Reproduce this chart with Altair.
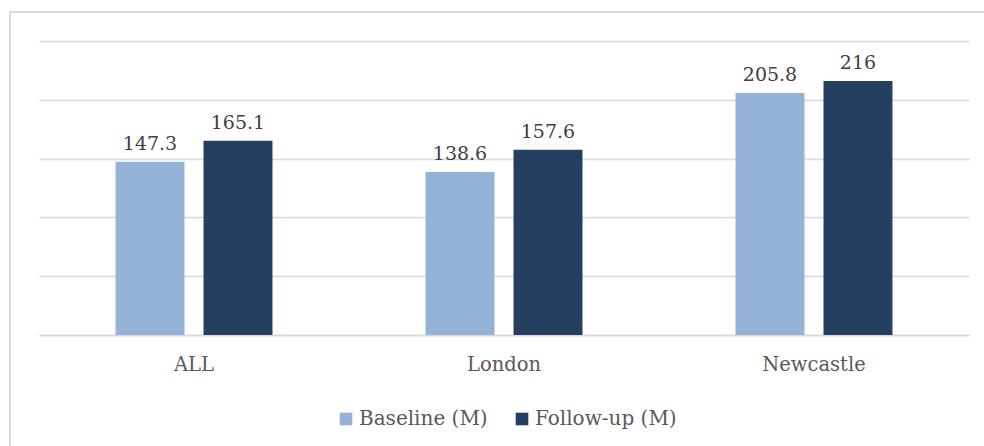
import altair as alt
import pandas as pd

categories = ["ALL", "London", "Newcastle"]
series = ["Baseline (M)", "Follow-up (M)"]
baseline = [147.3, 138.6, 205.8]
followup = [165.1, 157.6, 216]
labels_b = ["147.3", "138.6", "205.8"]
labels_f = ["165.1", "157.6", "216"]

rows = []
for c, v, l in zip(categories, baseline, labels_b):
    rows.append({"cat": c, "series": series[0], "value": v, "label": l})
for c, v, l in zip(categories, followup, labels_f):
    rows.append({"cat": c, "series": series[1], "value": v, "label": l})
df = pd.DataFrame(rows)

FONT = "DejaVu Serif"
TXT = "#595959"
GRID = "#D9D9D9"

x = alt.X("cat:N", sort=categories, title=None,
          scale=alt.Scale(paddingInner=0, paddingOuter=0),
          axis=alt.Axis(labelAngle=0, ticks=False, domain=True, domainColor=GRID,
                        domainWidth=1.3, labelFont=FONT, labelFontSize=19.5,
                        labelColor=TXT, labelPadding=20))
xo = alt.XOffset("series:N", sort=series,
                 scale=alt.Scale(paddingInner=0.216, paddingOuter=0.87))
y = alt.Y("value:Q", title=None,
          scale=alt.Scale(domain=[0, 250], nice=False),
          axis=alt.Axis(values=[0, 50, 100, 150, 200, 250], labels=False, ticks=False,
                        domain=False, grid=True, gridColor=GRID, gridWidth=1.3))

bars = alt.Chart(df).mark_bar().encode(
    x=x, xOffset=xo, y=y,
    color=alt.Color("series:N", sort=series,
                    scale=alt.Scale(domain=series, range=["#95B3D7", "#243F60"]),
                    legend=alt.Legend(title=None, orient="none", direction="horizontal",
                                      legendX=297, legendY=368, symbolType="square",
                                      symbolSize=160, symbolStrokeWidth=0,
                                      labelFont=FONT, labelFontSize=20, labelColor=TXT,
                                      columnPadding=24, labelOffset=3)),
)

text = alt.Chart(df).mark_text(baseline="bottom", dy=-8, font=FONT, fontSize=19,
                               color="#404040").encode(
    x=alt.X("cat:N", sort=categories), xOffset=alt.XOffset("series:N", sort=series),
    y=alt.Y("value:Q"), text="label:N")

border = alt.Chart(df).mark_rect(fill=None, stroke=GRID, strokeWidth=2).encode(
    x=alt.value(-29), x2=alt.value(1000), y=alt.value(-29), y2=alt.value(500))

chart = alt.layer(border, bars, text).properties(
    width=930, height=294,
    background="white",
    autosize=alt.AutoSizeParams(type="none"),
    padding={"left": 39, "top": 41, "right": 15, "bottom": 111},
).configure_view(stroke=None)

chart.save("out.html", embed_options={"renderer": "svg", "actions": False})
